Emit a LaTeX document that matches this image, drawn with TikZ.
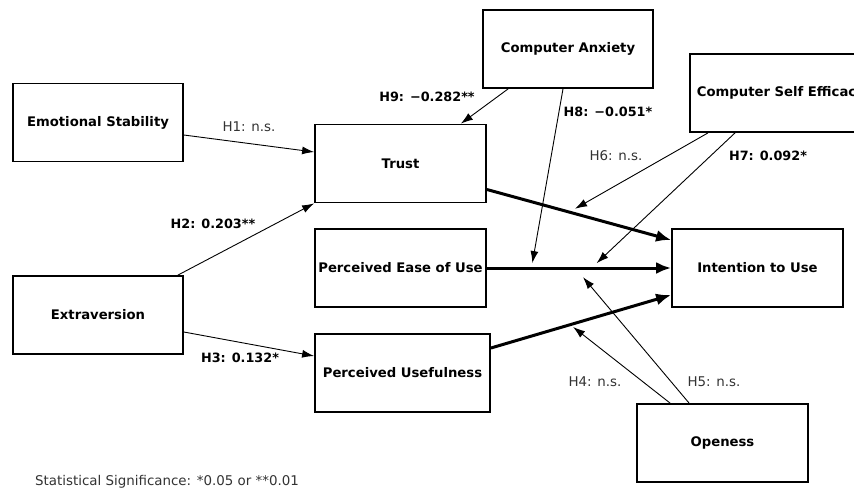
\documentclass[tikz,border=0pt]{standalone}
\usepackage{fontspec}
\setmainfont{DejaVu Sans}
\usetikzlibrary{arrows.meta}
\usetikzlibrary{calc}
\tikzset{box/.style = {draw, line width=1.8pt, minimum width=171pt, minimum height=78pt,
                       inner sep=0pt, font=\bfseries\fontsize{13.2}{16}\selectfont}}
\tikzset{hyp/.style = {-{Latex[length=12pt,width=8pt]}, line width=0.9pt}}
\tikzset{main/.style = {-{Latex[length=15pt,width=12pt]}, line width=3pt}}
\tikzset{lab/.style = {inner sep=1pt, text=black!80, font=\fontsize{13.4}{16}\selectfont}}
\tikzset{blab/.style = {inner sep=1pt, text=black, font=\bfseries\fontsize{12.8}{15}\selectfont}}

\begin{document}
\begin{tikzpicture}[x=1pt, y=-1pt]
  \fill[white] (0,0) rectangle (854,491);
  \useasboundingbox (0,0) rectangle (854,491);
  \clip (0,0) rectangle (854,491);

  \node[box, minimum width=170pt] (emo) at (98,122.5) {Emotional Stability};
  \node[box] (trust) at (400.5,163.5) {Trust};
  \node[box, minimum width=170pt] (anx) at (568,49) {Computer Anxiety};
  \node[box, anchor=west, minimum width=182pt] (eff) at (689,93) {Computer Self Efficacy};
  \node[box, minimum width=170pt] (extra) at (98,315) {Extraversion};
  \node[box] (ease) at (400.5,268) {Perceived Ease of Use};
  \node[box, minimum width=175pt] (useful) at (402.5,373) {Perceived Usefulness};
  \node[box] (intent) at (757.5,268) {Intention to Use};
  \node[box] (open) at (722.5,443) {Openess};

  \draw[main] ($(trust.east)+(0,26)$) -- ($(intent.west)+(0,-28)$) coordinate[pos=0.447] (m6);
  \draw[main] (ease.east) -- (intent.west)
    coordinate[pos=0.242] (m8) coordinate[pos=0.568] (m7) coordinate[pos=0.48] (m5);
  \draw[main] ($(useful.east)+(0,-25)$) -- ($(intent.west)+(0,27)$) coordinate[pos=0.44] (m4);

  \draw[hyp] ($(emo.east)+(0,12.5)$) -- ($(trust.west)+(0,-11.5)$);
  \draw[hyp] ($(extra.north east)+(-6,0)$) -- (trust.south west);
  \draw[hyp] ($(extra.east)+(0,17)$) -- ($(useful.west)+(0,-17)$);
  \draw[hyp] ($(anx.south west)+(26,0)$) -- ($(trust.north east)+(-26,0)$);
  \draw[hyp, shorten >=5pt] ($(anx.south)+(-5,0)$) -- (m8);
  \draw[hyp, shorten >=6.7pt] ($(eff.south west)+(19,0)$) -- (m6);
  \draw[hyp, shorten >=7pt] ($(eff.south west)+(46,0)$) -- (m7);
  \draw[hyp, shorten >=3.7pt] ($(open.north west)+(34,0)$) -- (m4);
  \draw[hyp, shorten >=12pt] ($(open.north west)+(53,0)$) -- (m5);

  \node[lab] (l1) at (249,127) {H1: n.s.};
  \node[blab] (l2) at (213,224) {H2: 0.203**};
  \node[blab] (l3) at (240,358) {H3: 0.132*};
  \node[blab] (l9) at (427,97) {H9: −0.282**};
  \node[blab] (l8) at (608,112) {H8: −0.051*};
  \node[lab] (l6) at (616,156) {H6: n.s.};
  \node[blab] (l7) at (768,156) {H7: 0.092*};
  \node[lab] (l4) at (595,382) {H4: n.s.};
  \node[lab] (l5) at (714,382) {H5: n.s.};
  \node[lab] (note) at (167,482) {Statistical Significance: *0.05 or **0.01};
\end{tikzpicture}
\end{document}
